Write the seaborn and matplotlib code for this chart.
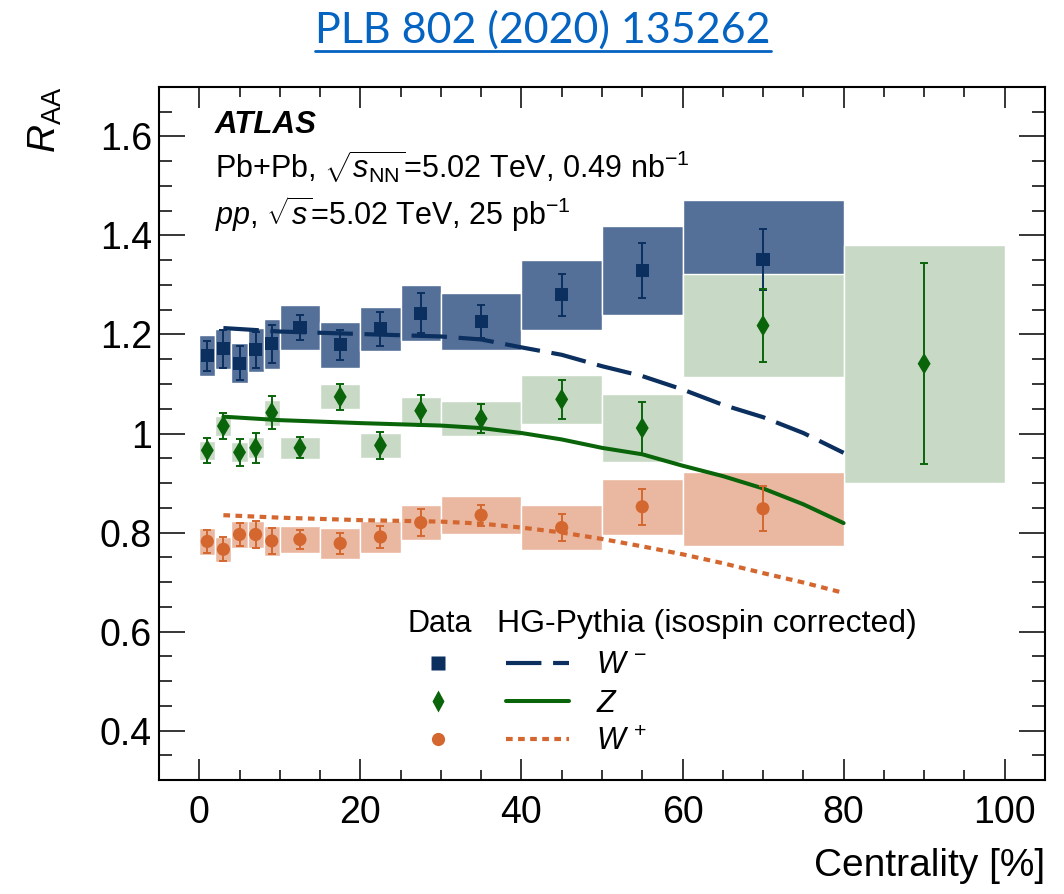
import numpy as np
import matplotlib
matplotlib.use("Agg")
import matplotlib.pyplot as plt
from matplotlib.lines import Line2D
from matplotlib.legend_handler import HandlerTuple
from matplotlib.ticker import MultipleLocator, FormatStrFormatter
import seaborn as sns

# ---------------- data ----------------
# centrality bins (%) for W- and W+
w_lo = [0, 2, 4, 6, 8, 10, 15, 20, 25, 30, 40, 50, 60]
w_hi = [2, 4, 6, 8, 10, 15, 20, 25, 30, 40, 50, 60, 80]
# Z has one extra peripheral bin
z_lo = w_lo + [80]
z_hi = w_hi + [100]

wm_val = [1.157, 1.171, 1.142, 1.169, 1.181, 1.214, 1.179, 1.211, 1.243, 1.226, 1.280, 1.329, 1.352]
wm_stat = [0.030, 0.039, 0.034, 0.036, 0.039, 0.026, 0.030, 0.034, 0.040, 0.034, 0.043, 0.055, 0.062]
wm_sys = [0.041, 0.041, 0.040, 0.044, 0.051, 0.046, 0.046, 0.045, 0.057, 0.058, 0.070, 0.090, 0.120]

z_val = [0.966, 1.015, 0.962, 0.971, 1.042, 0.971, 1.074, 0.976, 1.046, 1.030, 1.069, 1.011, 1.218, 1.141]
z_stat = [0.025, 0.026, 0.027, 0.030, 0.033, 0.021, 0.026, 0.028, 0.031, 0.029, 0.039, 0.053, 0.074, 0.203]
z_sys = [0.019, 0.021, 0.020, 0.021, 0.026, 0.022, 0.025, 0.025, 0.028, 0.036, 0.050, 0.068, 0.104, 0.240]

wp_val = [0.782, 0.766, 0.796, 0.796, 0.783, 0.786, 0.778, 0.791, 0.820, 0.835, 0.810, 0.852, 0.848]
wp_stat = [0.024, 0.024, 0.024, 0.027, 0.027, 0.020, 0.022, 0.022, 0.027, 0.021, 0.028, 0.036, 0.045]
wp_sys = [0.027, 0.025, 0.028, 0.028, 0.031, 0.028, 0.031, 0.033, 0.035, 0.039, 0.045, 0.057, 0.075]

# HG-Pythia (isospin corrected) predictions
th_x = [3, 10, 20, 30, 35, 40, 45, 50, 55, 60, 65, 70, 75, 80]
th_wm = [1.213, 1.206, 1.201, 1.196, 1.190, 1.174, 1.159, 1.136, 1.116, 1.089, 1.058, 1.033, 1.001, 0.961]
th_z = [1.034, 1.027, 1.021, 1.016, 1.011, 1.001, 0.988, 0.971, 0.958, 0.935, 0.914, 0.889, 0.857, 0.819]
th_wp = [0.835, 0.830, 0.825, 0.822, 0.818, 0.810, 0.800, 0.787, 0.772, 0.756, 0.738, 0.718, 0.699, 0.678]

x_ticks = [0, 20, 40, 60, 80, 100]
y_ticks = [0.4, 0.6, 0.8, 1.0, 1.2, 1.4, 1.6]

# ---------------- style ----------------
C_WM, C_WM_BOX = "#0B2F5E", "#546F98"
C_Z, C_Z_BOX = "#0A650A", "#C8DAC5"
C_WP, C_WP_BOX = "#D4672F", "#EAB8A0"
LS_WM = (0, (8.5, 2.8))
LS_WP = (0, (1.6, 1.3))

sns.set_theme(style="ticks")
plt.rcParams.update({
    "font.family": ["Liberation Sans", "DejaVu Sans"],
    "mathtext.fontset": "custom",
    "mathtext.rm": "Liberation Sans",
    "mathtext.it": "Liberation Sans:italic",
    "mathtext.bf": "Liberation Sans:bold",
    "text.color": "black",
    "axes.labelcolor": "black",
    "xtick.color": "black",
    "ytick.color": "black",
})

fig = plt.figure(figsize=(10.64, 8.94), dpi=100)
ax = fig.add_axes([0.1494, 0.1275, 0.8327, 0.7752])


def centres(lo, hi):
    return [(a + b) / 2 for a, b in zip(lo, hi)]


def sys_boxes(lo, hi, val, sys, color, z):
    ax.bar(centres(lo, hi), [2 * s for s in sys],
           width=[b - a for a, b in zip(lo, hi)],
           bottom=[v - s for v, s in zip(val, sys)],
           color=color, edgecolor="white", linewidth=1.0, zorder=z)


# systematic uncertainty boxes
sys_boxes(w_lo, w_hi, wm_val, wm_sys, C_WM_BOX, 1.0)
sys_boxes(z_lo, z_hi, z_val, z_sys, C_Z_BOX, 1.1)
sys_boxes(w_lo, w_hi, wp_val, wp_sys, C_WP_BOX, 1.2)

# model curves
sns.lineplot(x=th_x, y=th_wm, ax=ax, color=C_WM, linewidth=3.0,
             linestyle=LS_WM, zorder=3)
sns.lineplot(x=th_x, y=th_z, ax=ax, color=C_Z, linewidth=2.9,
             linestyle="-", zorder=3)
sns.lineplot(x=th_x, y=th_wp, ax=ax, color=C_WP, linewidth=3.0,
             linestyle=LS_WP, zorder=3)

# data points with statistical error bars
for lo, hi, val, err, col, mk, ms in [
    (w_lo, w_hi, wm_val, wm_stat, C_WM, "s", 9.5),
    (z_lo, z_hi, z_val, z_stat, C_Z, "d", 11),
    (w_lo, w_hi, wp_val, wp_stat, C_WP, "o", 9.5),
]:
    xc = centres(lo, hi)
    ax.errorbar(xc, val, yerr=err, fmt="none", ecolor=col, elinewidth=1.4,
                capsize=3, capthick=1.4, zorder=4)
    sns.scatterplot(x=xc, y=val, ax=ax, marker=mk, s=ms ** 2, color=col,
                    edgecolor="none", zorder=5, legend=False)

# ---------------- axes ----------------
ax.set_xlim(-5, 105)
ax.set_ylim(0.3, 1.7)
ax.set_xticks(x_ticks)
ax.set_yticks(y_ticks)
ax.xaxis.set_minor_locator(MultipleLocator(5))
ax.yaxis.set_minor_locator(MultipleLocator(0.05))
ax.yaxis.set_major_formatter(FormatStrFormatter("%g"))
ax.tick_params(axis="both", which="both", direction="in", top=True, right=True,
               width=1.1, color="black", labelcolor="black")
ax.tick_params(axis="x", which="major", length=15, labelsize=27, pad=11)
ax.tick_params(axis="x", which="minor", length=7.5)
ax.tick_params(axis="y", which="major", length=19, labelsize=27, pad=5)
ax.tick_params(axis="y", which="minor", length=9.5)
for sp in ax.spines.values():
    sp.set_linewidth(1.5)
    sp.set_color("black")
ax.grid(False)

ax.set_xlabel("Centrality [%]", fontsize=28, loc="right")
ax.xaxis.set_label_coords(1.0, -0.098)
ax.set_ylabel(r"$R_{\mathrm{AA}}$", fontsize=28, loc="top")
ax.yaxis.label.set(rotation_mode="default", ha="center", va="top")
ax.yaxis.set_label_coords(-0.1287, 1.0)

# ---------------- annotations ----------------
ax.text(0.0632, 0.9336, "ATLAS", transform=ax.transAxes, fontsize=22.5,
        fontweight="bold", fontstyle="italic", va="baseline")
ax.text(0.0632, 0.8687, r"Pb+Pb, $\sqrt{s_{\mathrm{NN}}}$=5.02 TeV, 0.49 nb$^{-1}$",
        transform=ax.transAxes, fontsize=22, va="baseline")
ax.text(0.0632, 0.8009, r"$pp$, $\sqrt{s}$=5.02 TeV, 25 pb$^{-1}$",
        transform=ax.transAxes, fontsize=22, va="baseline")

ax.text(0.280, 0.214, "Data", transform=ax.transAxes, fontsize=22, va="baseline")
ax.text(0.381, 0.214, "HG-Pythia (isospin corrected)", transform=ax.transAxes,
        fontsize=23, va="baseline")

h_wm = (Line2D([], [], marker="s", ms=9.5, color=C_WM, ls="none", mec="none"),
        Line2D([], [], color=C_WM, lw=3.0, ls=LS_WM))
h_z = (Line2D([], [], marker="d", ms=11, color=C_Z, ls="none", mec="none"),
       Line2D([], [], color=C_Z, lw=2.9, ls="-"))
h_wp = (Line2D([], [], marker="o", ms=9.5, color=C_WP, ls="none", mec="none"),
        Line2D([], [], color=C_WP, lw=3.0, ls=LS_WP))
ax.legend([h_wm, h_z, h_wp], [r"$W^{\,-}$", r"$Z$", r"$W^{\,+}$"],
          handler_map={tuple: HandlerTuple(ndivide=None, pad=1.2)},
          loc="upper left", bbox_to_anchor=(0.28, 0.187), frameon=False,
          fontsize=22, handlelength=5.3, handletextpad=0.9, labelspacing=0.27,
          borderpad=0, borderaxespad=0)

# reference heading above the plot
title = fig.text(0.5103, 0.9665, "PLB 802 (2020) 135262", fontsize=31,
                 family="Lato", color="#0563C1", ha="center", va="center")
fig.canvas.draw()
bb = title.get_window_extent().transformed(fig.transFigure.inverted())
fig.add_artist(Line2D([bb.x0, bb.x1], [bb.y0 - 0.002, bb.y0 - 0.002],
                      transform=fig.transFigure, color="#0563C1", lw=2))

fig.savefig("out.png", dpi=100)
